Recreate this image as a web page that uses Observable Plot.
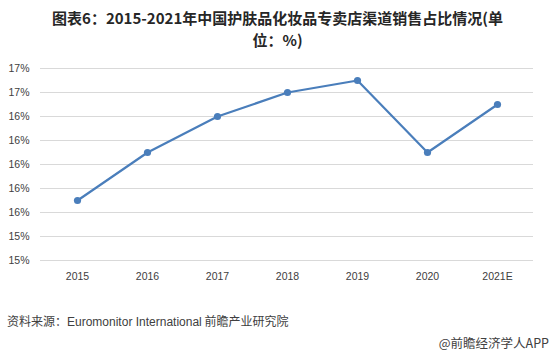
<!DOCTYPE html>
<html>
<head>
<meta charset="utf-8">
<script src="https://cdn.jsdelivr.net/npm/d3@7"></script>
<script src="https://cdn.jsdelivr.net/npm/@observablehq/plot@0.6"></script>
<style>
  html, body { margin: 0; padding: 0; background: #fff; }
  body { width: 555px; height: 355px; position: relative; overflow: hidden; font-family: "Noto Sans CJK SC", "Liberation Sans", sans-serif; }
  #title { position: absolute; left: 0; top: 7px; width: 555px; text-align: center; font-size: 15px; font-weight: bold; line-height: 22px; color: #262626; }
  #chart { position: absolute; left: 0; top: 0; }
  #source { position: absolute; left: 7px; top: 312px; font-size: 12px; color: #404040; }
  #brand { position: absolute; right: 6px; top: 333px; font-size: 12.5px; color: #404040; }
</style>
</head>
<body>
<div id="chart"></div>
<div id="title">图表6：2015-2021年中国护肤品化妆品专卖店渠道销售占比情况(单<br>位：%)</div>
<div id="source">资料来源：<span style="font-family:'Liberation Sans',sans-serif">Euromonitor International</span> 前瞻产业研究院</div>
<div id="brand">@前瞻经济学人APP</div>
<script>
const years = ["2015", "2016", "2017", "2018", "2019", "2020", "2021E"];
const shares = [15.7, 16.1, 16.4, 16.6, 16.7, 16.1, 16.5];
const yTicks = [15.2, 15.4, 15.6, 15.8, 16.0, 16.2, 16.4, 16.6, 16.8];
const yTickLabels = ["15%", "15%", "16%", "16%", "16%", "16%", "16%", "17%", "17%"];

const data = years.map((y, i) => ({year: y, value: shares[i]}));
const color = "#4a7ebb";

const chart = Plot.plot({
  width: 555,
  height: 300,
  marginTop: 68,
  marginBottom: 40,
  marginLeft: 40,
  marginRight: 22,
  style: {fontFamily: "'Liberation Sans', sans-serif", fontSize: "10.5px", color: "#404040", background: "transparent"},
  x: {type: "point", domain: years, padding: 0.5, label: null, tickSize: 0, tickPadding: 12},
  y: {domain: [15.2, 16.8], ticks: yTicks, tickFormat: d => yTickLabels[yTicks.findIndex(t => Math.abs(t - d) < 1e-9)], label: null, tickSize: 0, tickPadding: 11},
  marks: [
    Plot.ruleY(yTicks, {stroke: "#d9d9d9", strokeWidth: 1}),
    Plot.line(data, {x: "year", y: "value", stroke: color, strokeWidth: 2.2}),
    Plot.dot(data, {x: "year", y: "value", fill: color, r: 3.6})
  ]
});
document.getElementById("chart").appendChild(chart);
</script>
</body>
</html>
